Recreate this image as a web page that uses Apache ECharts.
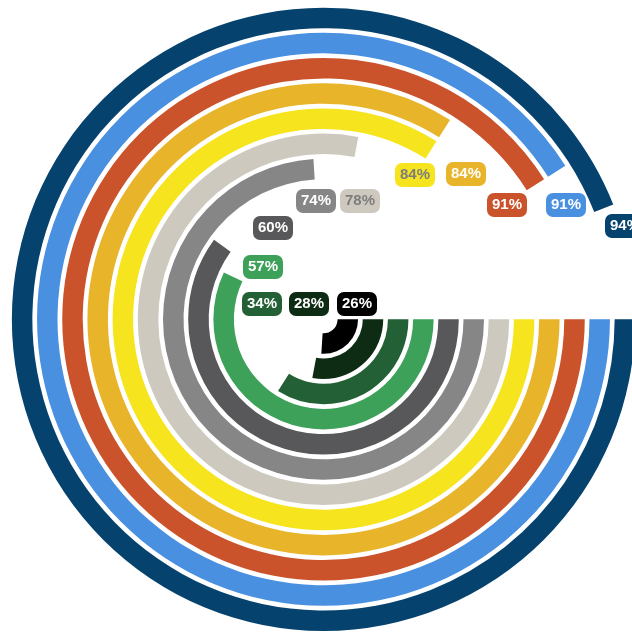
<!DOCTYPE html>
<html>
<head>
<meta charset="utf-8">
<script src="https://cdn.jsdelivr.net/npm/echarts@6/dist/echarts.min.js"></script>
<style>
  html, body { margin: 0; padding: 0; background: #fff; }
  #chart { width: 632px; height: 633px; }
</style>
</head>
<body>
<div id="chart"></div>
<script>
  // rings from inner to outer
  var categories = ['r1', 'r2', 'r3', 'r4', 'r5', 'r6', 'r7', 'r8', 'r9', 'r10', 'r11', 'r12']
  var values = [26, 28, 34, 57, 60, 74, 78, 84, 84, 91, 91, 94]

  var colors = [
    '#000000', '#0e2c14', '#246035', '#3ea15a', '#58585a', '#868686',
    '#cdc9be', '#f6e51e', '#e8b42a', '#ca532b', '#4a90e0', '#05426e'
  ]
  // text colour of the badges (light backgrounds get gray text)
  var textColors = [
    '#fff', '#fff', '#fff', '#fff', '#fff', '#fff',
    '#7d7d7d', '#7d7d7d', '#fff', '#fff', '#fff', '#fff'
  ]
  // badge centres (layout only)
  var badgePos = [
    [357, 304], [309, 304], [262, 304], [263, 267], [273, 228], [316, 201],
    [360, 201], [415, 175], [466, 174], [507, 205], [566, 205], [625, 226]
  ]

  var myChart = echarts.init(document.getElementById('chart'))

  var barData = values.map(function (v, i) {
    return { value: v, itemStyle: { color: colors[i] } }
  })

  var badges = values.map(function (v, i) {
    return {
      type: 'text',
      x: badgePos[i][0],
      y: badgePos[i][1],
      z: 100,
      style: {
        text: v + '%',
        fill: textColors[i],
        font: 'bold 15px "Liberation Sans", Arial, sans-serif',
        align: 'center',
        verticalAlign: 'middle',
        backgroundColor: colors[i],
        padding: [5, 5, 4, 5],
        borderRadius: 7
      }
    }
  })

  var option = {
    animation: false,
    backgroundColor: '#fff',
    polar: {
      center: [323.5, 319.3],
      radius: [11.7, 314]
    },
    angleAxis: {
      type: 'value',
      min: 0,
      max: 100,
      startAngle: 0,
      clockwise: true,
      show: false
    },
    radiusAxis: {
      type: 'category',
      data: categories,
      show: false
    },
    series: [
      {
        type: 'bar',
        coordinateSystem: 'polar',
        data: barData,
        barWidth: 20.5
      }
    ],
    graphic: badges
  }

  myChart.setOption(option)
</script>
</body>
</html>
